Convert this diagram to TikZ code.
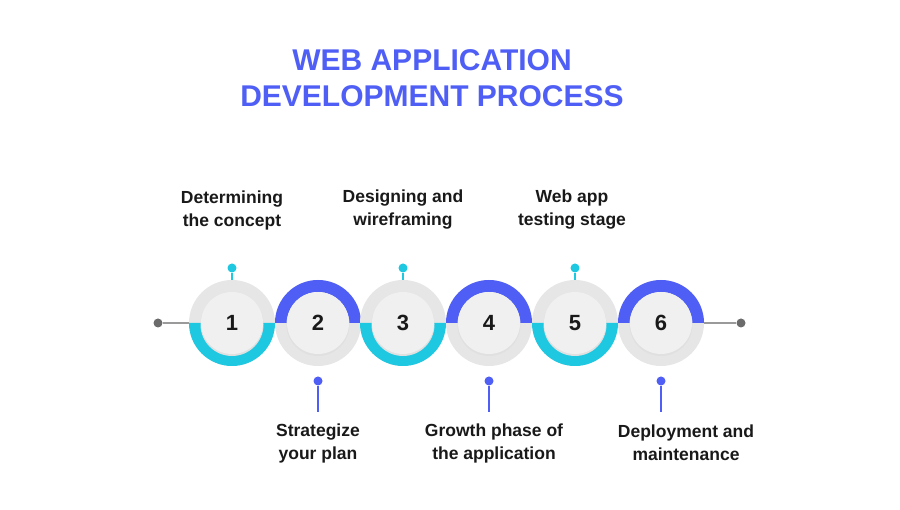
\documentclass[tikz,border=0pt]{standalone}
\usepackage{fontspec}
\setmainfont{Liberation Sans}
\definecolor{tblue}{HTML}{4F5FF5}
\definecolor{tcyan}{HTML}{1EC8E0}
\definecolor{ring}{HTML}{E6E6E6}
\definecolor{inner}{HTML}{F0F0F0}
\definecolor{lgray}{HTML}{9A9A9A}
\definecolor{dgray}{HTML}{6B6B6B}
\begin{document}
\begin{tikzpicture}[x=1pt,y=1pt,
  title/.style={font=\fontsize{30}{36}\selectfont\bfseries, text=tblue, align=center},
  lab/.style={font=\fontsize{17.5}{23}\selectfont\bfseries, text=black!90, align=center},
  num/.style={font=\fontsize{22}{24}\selectfont\bfseries, text=black!90},
  cdot/.style={circle, inner sep=0pt, minimum size=9pt, fill=tcyan},
  bdot/.style={circle, inner sep=0pt, minimum size=9pt, fill=tblue},
  gdot/.style={circle, inner sep=0pt, minimum size=9pt, fill=dgray}]
\useasboundingbox (0,0) rectangle (900,510);
\node[title] (t) at (432,432) {WEB APPLICATION\\DEVELOPMENT PROCESS};
\node[gdot] (L) at (158,187) {};
\node[gdot] (R) at (741,187) {};
\draw[lgray, line width=1.2pt] (L) -- (R);
\foreach \i/\x/\c in {1/232/tcyan,2/318/tblue,3/403/tcyan,4/489/tblue,5/575/tcyan,6/661/tblue}{
  \fill[ring] (\x,187) circle (43);
  \ifodd\i
    \fill[\c] (\x+43,187) arc (0:-180:43) -- (\x-31,187) arc (-180:0:31) -- cycle;
  \else
    \fill[\c] (\x+43,187) arc (0:180:43) -- (\x-31,187) arc (180:0:31) -- cycle;
  \fi
  \fill[black!12] (\x,185.5) circle (31.5);
  \node[circle, fill=inner, minimum size=62pt, inner sep=0pt, num] (c\i) at (\x,187) {\i};
}
\foreach \i/\x in {1/232,3/403,5/575}{
  \node[cdot] (d\i) at (\x,242) {};
  \draw[tcyan, line width=1.2pt] (d\i) -- (\x,230);
}
\foreach \i/\x in {2/318,4/489,6/661}{
  \node[bdot] (d\i) at (\x,129) {};
  \coordinate (e\i) at (\x,98);
  \draw[tblue, line width=1.2pt] (d\i) -- (e\i);
}
\node[lab] (l1) at (232,300) {Determining\\the concept};
\node[lab] (l3) at (403,300) {Designing and\\wireframing};
\node[lab] (l5) at (572,300) {Web app\\testing stage};
\node[lab] (l2) at (318,67) {Strategize\\your plan};
\node[lab] (l4) at (494,67) {Growth phase of\\the application};
\node[lab] (l6) at (686,67) {Deployment and\\maintenance};
\end{tikzpicture}
\end{document}
